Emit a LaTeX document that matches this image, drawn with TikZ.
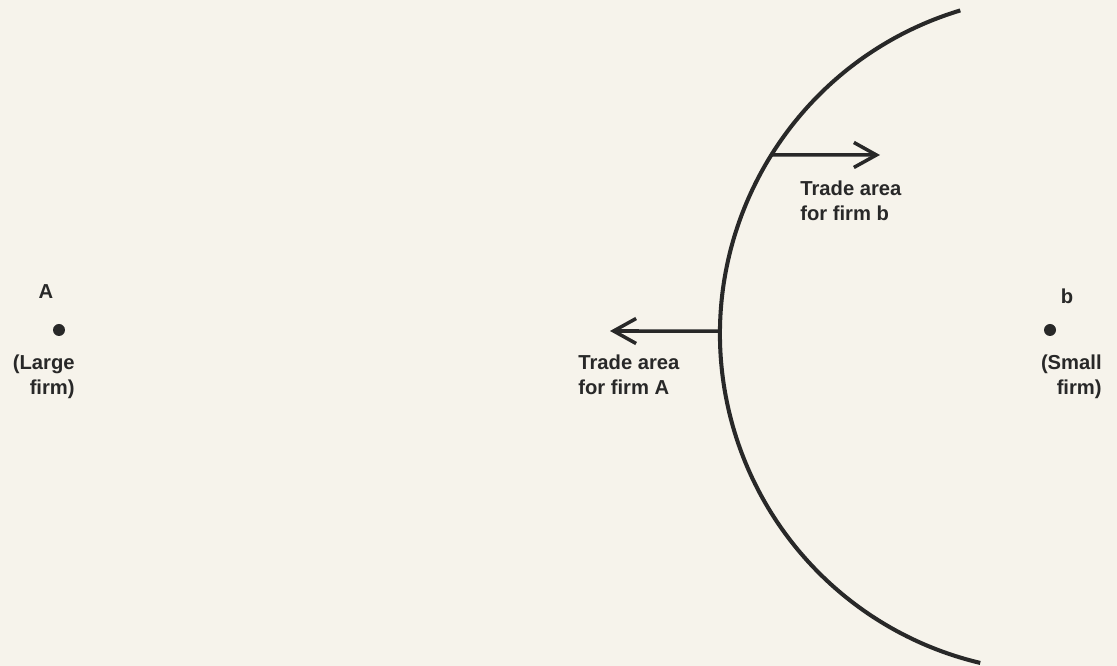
\documentclass[tikz,border=0pt]{standalone}
\usepackage{fontspec}
\setmainfont{Liberation Sans}
\usetikzlibrary{arrows.meta}
\definecolor{paper}{RGB}{246,243,235}
\definecolor{ink}{RGB}{40,40,40}

\begin{document}
\begin{tikzpicture}[x=0.02cm, y=0.02cm, every node/.style={font=\bfseries\fontsize{11.5}{14}\selectfont, text=ink}]
\tikzstyle{firm} = [circle, fill=ink, minimum size=.24cm, inner sep=0pt]
\tikzstyle{lbl} = [inner sep=0pt]
\tikzstyle{area} = [inner sep=0pt, anchor=west, align=left]
\tikzstyle{bound} = [draw=ink, line width=2.3pt]
\tikzstyle{push} = [-{Straight Barb[length=4.5mm, width=5mm]}, draw=ink, line width=2pt]

\fill[paper] (0,0) rectangle (1117,666);
\useasboundingbox (0,0) rectangle (1117,666);

% the two firms
\node (A) [firm] at (59,336) {};
\node (Aname) [lbl] at (46,374.5) {A};
\node (Ainfo) [lbl, anchor=east, align=right] at (75,289) {(Large\\firm)};

\node (b) [firm] at (1050,336) {};
\node (bname) [lbl] at (1067,370) {b};
\node (binfo) [lbl, anchor=east, align=right] at (1102,289) {(Small\\firm)};

% boundary between the trade areas
\coordinate (ctr) at (1058,332);
\draw[bound] (ctr) ++(106.8:338) arc[start angle=106.8, end angle=256.7, radius=338];

\path (ctr) ++(179.5:338) coordinate (edgeA);
\path (ctr) ++(148:338) coordinate (edgeb);
\coordinate (tipA) at (610,335);
\coordinate (tipb) at (880,511);

\draw[push] (edgeA) -- (tipA);
\draw[push] (edgeb) -- (tipb);

\node (areaA) [area] at (578,291.5) {Trade area\\for firm A};
\node (areab) [area] at (800,465) {Trade area\\for firm b};

\end{tikzpicture}
\end{document}
